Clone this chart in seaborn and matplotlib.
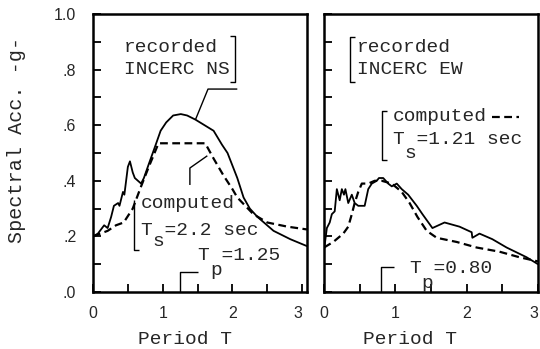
import numpy as np
import pandas as pd
import seaborn as sns
import matplotlib
matplotlib.use("Agg")
import matplotlib.pyplot as plt
from matplotlib.ticker import MultipleLocator, FuncFormatter

# ---------------- data ----------------
ns_rec_T = [0.0, 0.07, 0.16, 0.21, 0.26, 0.30, 0.36, 0.38, 0.43, 0.45, 0.50, 0.53,
            0.57, 0.60, 0.69, 0.73, 0.80, 0.90, 0.97, 1.05, 1.15, 1.26, 1.35, 1.47,
            1.60, 1.73, 1.85, 1.93, 2.00, 2.07, 2.16, 2.25, 2.36, 2.59, 2.83, 3.07]
ns_rec_SA = [0.20, 0.21, 0.24, 0.23, 0.27, 0.31, 0.32, 0.31, 0.36, 0.35, 0.45, 0.47,
             0.43, 0.41, 0.39, 0.41, 0.46, 0.53, 0.58, 0.61, 0.635, 0.64, 0.635, 0.62,
             0.60, 0.58, 0.53, 0.50, 0.455, 0.41, 0.34, 0.30, 0.27, 0.22, 0.19, 0.165]

ns_cmp_T = [0.0, 0.21, 0.33, 0.44, 0.57, 0.69, 0.80, 0.94, 1.20, 1.40, 1.61, 1.73,
            1.87, 2.00, 2.07, 2.30, 2.50, 2.79, 3.07]
ns_cmp_SA = [0.20, 0.22, 0.24, 0.25, 0.30, 0.38, 0.45, 0.535, 0.535, 0.535, 0.535, 0.48,
             0.42, 0.37, 0.34, 0.28, 0.25, 0.235, 0.225]

ew_rec_T = [0.0, 0.04, 0.08, 0.11, 0.15, 0.18, 0.22, 0.25, 0.28, 0.30, 0.34, 0.39,
            0.43, 0.48, 0.57, 0.62, 0.67, 0.74, 0.77, 0.83, 0.90, 0.95, 1.02, 1.09,
            1.18, 1.30, 1.38, 1.52, 1.69, 1.90, 2.07, 2.08, 2.18, 2.36, 2.56, 2.84, 3.0]
ew_rec_SA = [0.15, 0.23, 0.25, 0.28, 0.29, 0.37, 0.33, 0.37, 0.35, 0.37, 0.32, 0.35,
             0.32, 0.31, 0.31, 0.37, 0.39, 0.40, 0.41, 0.41, 0.39, 0.38, 0.39, 0.37,
             0.35, 0.31, 0.28, 0.23, 0.25, 0.235, 0.215, 0.195, 0.21, 0.19, 0.16, 0.125, 0.10]

ew_cmp_T = [0.0, 0.13, 0.27, 0.34, 0.39, 0.43, 0.48, 0.53, 0.62, 0.71, 0.81, 0.95,
            1.09, 1.20, 1.31, 1.44, 1.58, 1.86, 2.14, 2.46, 2.74, 3.0]
ew_cmp_SA = [0.16, 0.18, 0.21, 0.235, 0.28, 0.32, 0.36, 0.39, 0.39, 0.40, 0.40, 0.39,
             0.36, 0.32, 0.27, 0.22, 0.195, 0.18, 0.16, 0.145, 0.125, 0.11]

Tp_NS = 1.25
Tp_EW = 0.80
x_ticks = [0, 1, 2, 3]
x_tick_labels = ["0", "1", "2", "3"]
y_ticks = [0.0, 0.2, 0.4, 0.6, 0.8, 1.0]
y_tick_labels = [".0", ".2", ".4", ".6", ".8", "1.0"]

# ---------------- style ----------------
sns.set_style("ticks")
plt.rcParams["font.family"] = ["Liberation Sans", "DejaVu Sans"]
MONO = ["Liberation Mono", "DejaVu Sans Mono"]
FS = 14
DASH = (0, (3.5, 2.0))

fig = plt.figure(figsize=(5.4, 3.49), dpi=100)
axL = fig.add_axes([93 / 540, 57 / 349, 214 / 540, 278 / 349])
axR = fig.add_axes([324 / 540, 57 / 349, 214 / 540, 278 / 349])


def style_axes(ax, xmax, show_ylabels):
    ax.set_xlim(0, xmax)
    ax.set_ylim(0, 1.0)
    for s in ax.spines.values():
        s.set_visible(True)
        s.set_linewidth(1.8)
        s.set_color("black")
    ax.set_xticks(x_ticks, x_tick_labels)
    ax.xaxis.set_minor_locator(MultipleLocator(0.5))
    if show_ylabels:
        ax.set_yticks(y_ticks, y_tick_labels)
    else:
        ax.set_yticks(y_ticks, [""] * len(y_ticks))
    ax.yaxis.set_minor_locator(MultipleLocator(0.1))
    ax.tick_params(which="both", direction="in", length=6, width=1.3,
                   top=False, right=False, color="black")
    ax.tick_params(axis="x", which="major", pad=10, labelsize=11.5)
    ax.tick_params(axis="y", which="major", pad=12, labelsize=11.5)
    labels = ax.get_xticklabels()
    labels[-1].set_horizontalalignment("right")
    ax.set_xlabel("")
    ax.set_ylabel("")
    ax.set_facecolor("white")


def bracket(ax, pts):
    xs, ys = zip(*pts)
    ax.plot(xs, ys, color="black", lw=1.0, solid_capstyle="butt")


def sub_label(ax, x, y, main, sub, dy, fs=FS):
    ax.text(x, y, main, family=MONO, fontsize=fs, ha="left", va="center")
    cw = 0.6 * fs * 100 / 72  # char width in px
    inv = ax.transData.inverted()
    px, py = ax.transData.transform((x, y))
    sx, sy = inv.transform((px + cw, py))
    ax.text(sx, y - dy, sub, family=MONO, fontsize=fs, ha="left", va="center")


# ---------------- left panel: NS ----------------
sns.lineplot(x=ns_rec_T, y=ns_rec_SA, ax=axL, color="black", lw=1.3, sort=False)
sns.lineplot(x=ns_cmp_T, y=ns_cmp_SA, ax=axL, color="black", lw=1.6, sort=False,
             linestyle=DASH)
style_axes(axL, 3.07, True)

axL.text(0.44, 0.88, "recorded", family=MONO, fontsize=FS, ha="left", va="center")
axL.text(0.44, 0.80, "INCERC NS", family=MONO, fontsize=FS, ha="left", va="center")
bracket(axL, [(1.97, 0.92), (2.04, 0.92), (2.04, 0.755), (1.97, 0.755)])
bracket(axL, [(1.47, 0.62), (1.65, 0.73), (2.07, 0.73)])

axL.text(0.69, 0.32, "computed", family=MONO, fontsize=FS, ha="left", va="center")
sub_label(axL, 0.69, 0.22, "T =2.2 sec", "s", 0.04)
sub_label(axL, 1.51, 0.133, "T =1.25", "p", 0.055)
bracket(axL, [(0.59, 0.33), (0.59, 0.15), (0.66, 0.15)])
bracket(axL, [(1.64, 0.49), (1.39, 0.446), (1.39, 0.385)])
bracket(axL, [(Tp_NS, 0.0), (Tp_NS, 0.072), (Tp_NS + 0.25, 0.072)])

# ---------------- right panel: EW ----------------
sns.lineplot(x=ew_rec_T, y=ew_rec_SA, ax=axR, color="black", lw=1.3, sort=False)
sns.lineplot(x=ew_cmp_T, y=ew_cmp_SA, ax=axR, color="black", lw=1.6, sort=False,
             linestyle=DASH)
style_axes(axR, 3.0, False)

bracket(axR, [(0.43, 0.917), (0.36, 0.917), (0.36, 0.755), (0.43, 0.755)])
axR.text(0.46, 0.88, "recorded", family=MONO, fontsize=FS, ha="left", va="center")
axR.text(0.46, 0.80, "INCERC EW", family=MONO, fontsize=FS, ha="left", va="center")

bracket(axR, [(0.88, 0.65), (0.81, 0.65), (0.81, 0.475), (0.88, 0.475)])
axR.text(0.965, 0.63, "computed", family=MONO, fontsize=FS, ha="left", va="center")
axR.plot([2.36, 2.74], [0.63, 0.63], color="black", lw=1.6, linestyle=DASH)
sub_label(axR, 0.965, 0.547, "T =1.21 sec", "s", 0.05)

sub_label(axR, 1.20, 0.086, "T =0.80", "p", 0.055)
bracket(axR, [(Tp_EW, 0.0), (Tp_EW, 0.09), (Tp_EW + 0.18, 0.09)])

# ---------------- axis titles ----------------
fig.text(17 / 540, 1 - 140 / 349, "Spectral Acc. -g-", family=MONO, fontsize=14.5,
         rotation=90, ha="center", va="center")
fig.text(185 / 540, 1 - 339 / 349, "Period T", family=MONO, fontsize=FS,
         ha="center", va="center")
fig.text(410 / 540, 1 - 339 / 349, "Period T", family=MONO, fontsize=FS,
         ha="center", va="center")

fig.savefig("out.png", dpi=100, facecolor="white")
